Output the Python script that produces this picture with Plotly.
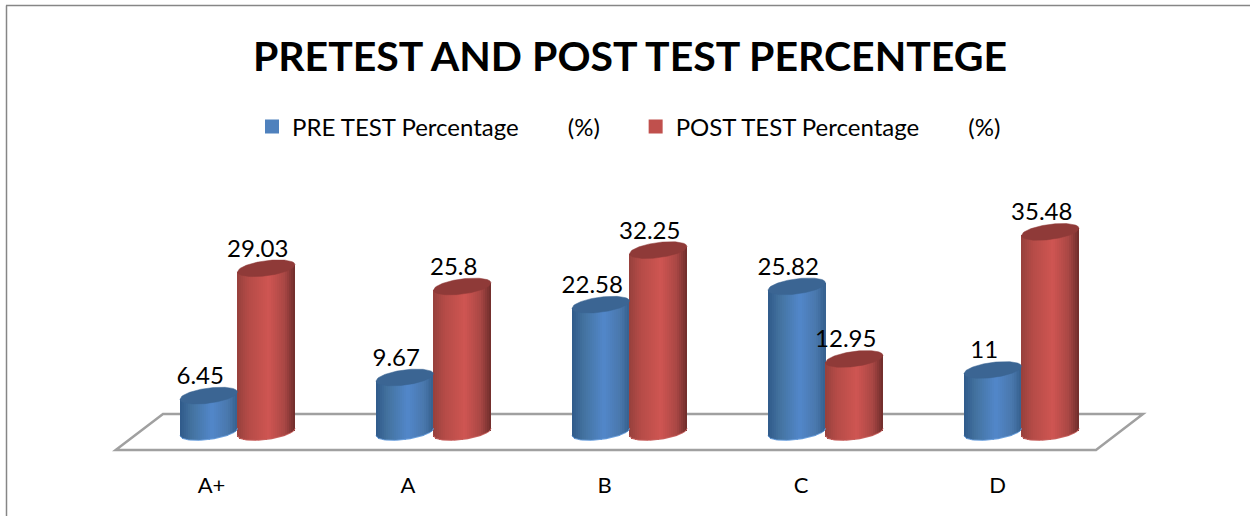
import math
import plotly.graph_objects as go

categories = ["A+", "A", "B", "C", "D"]
pre_test = [6.45, 9.67, 22.58, 25.82, 11]
post_test = [29.03, 25.8, 32.25, 12.95, 35.48]

W, H = 1250, 516
PLOT_BOTTOM = 462
BASE_PX, UNIT_PX = 432.0, 5.64      # y=0 line and px per unit
CAT_PX, ORIGIN_PX = 196.0, 237.5    # px per category, px of first category centre
CYL_W = 57.5 / CAT_PX               # cylinder width in x units
SEMI_B, TILT = 7.6, 0.125           # ellipse shape (px)
N = 29
FONT = "Lato"

blue_stops = [(0, "#2f5a8a"), (.2, "#43729f"), (.55, "#5287ca"), (.82, "#4a78ad"), (1, "#36618f")]
red_stops = [(0, "#96403c"), (.2, "#b54b47"), (.55, "#cf5552"), (.82, "#a94744"), (1, "#6e2d2b")]
blue_cap, red_cap = "#3b6593", "#8f3a38"
blue_rim, red_rim = "#6fa3df", "#c9625f"
blue_key, red_key = "#4f81bd", "#c0504d"


def mix(stops, t):
    for (a, ca), (b, cb) in zip(stops, stops[1:]):
        if t <= b:
            f = (t - a) / (b - a)
            rgb = [round(int(ca[i:i + 2], 16) * (1 - f) + int(cb[i:i + 2], 16) * f) for i in (1, 3, 5)]
            return "rgb(%d,%d,%d)" % tuple(rgb)
    return stops[-1][1]


def ellipse_dy(t, sign):
    """Vertical offset in data units of a tilted ellipse at t in [-1,1]."""
    dx = t * CYL_W * CAT_PX / 2
    return (TILT * dx + sign * SEMI_B * math.sqrt(max(0, 1 - t * t))) / UNIT_PX


def cylinders(values, side, stops, cap, rim):
    xs, bases, heights, colors = [], [], [], []
    for i, v in enumerate(values):
        cx = i + side * CYL_W / 2
        for k in range(N):
            t = -1 + (2 * k + 1) / N
            xs.append(cx + t * CYL_W / 2)
            b = ellipse_dy(t, -1)
            bases.append(b)
            heights.append(v + TILT * t * CYL_W * CAT_PX / 2 / UNIT_PX - b)
            colors.append(mix(stops, (t + 1) / 2))
    out = [go.Bar(x=xs, y=heights, base=bases, width=CYL_W / N * 1.05,
                  marker=dict(color=colors, line=dict(width=0)),
                  showlegend=False, hoverinfo="skip")]
    ts = [j / 30 - 1 for j in range(61)]
    for i, v in enumerate(values):
        cx = i + side * CYL_W / 2
        ex = [cx + t * CYL_W / 2 for t in ts]
        out.append(go.Scatter(x=ex, y=[ellipse_dy(t, -1) for t in ts], mode="lines",
                              line=dict(color=rim, width=1), showlegend=False, hoverinfo="skip"))
        ey = [v + ellipse_dy(t, 1) for t in ts] + [v + ellipse_dy(t, -1) for t in reversed(ts)]
        out.append(go.Scatter(x=ex + ex[::-1], y=ey, mode="lines", fill="toself", fillcolor=cap,
                              line=dict(color=cap, width=0.5), showlegend=False, hoverinfo="skip"))
    return out


fig = go.Figure()
for tr in cylinders(pre_test, -1, blue_stops, blue_cap, blue_rim):
    fig.add_trace(tr)
for tr in cylinders(post_test, 1, red_stops, red_cap, red_rim):
    fig.add_trace(tr)

LABEL_DX = -8.5 / CAT_PX
LABEL_DY = 17.5 / UNIT_PX
for vals, side in ((pre_test, -1), (post_test, 1)):
    fig.add_trace(go.Scatter(
        x=[i + side * CYL_W / 2 + LABEL_DX for i in range(len(vals))],
        y=[v + LABEL_DY for v in vals],
        mode="text", text=[str(v) for v in vals], textposition="middle center",
        textfont=dict(family=FONT, size=24, color="#000"),
        showlegend=False, hoverinfo="skip"))

NB = "\u00a0"
fig.add_trace(go.Bar(x=[None], y=[None], name="PRE TEST Percentage" + NB * 8 + "(%)" + NB * 5,
                     marker=dict(color=blue_key, line=dict(color=blue_key, width=2))))
fig.add_trace(go.Bar(x=[None], y=[None], name="POST TEST Percentage" + NB * 8 + "(%)",
                     marker=dict(color=red_key, line=dict(color=red_key, width=2))))


def xd(px):
    return (px - ORIGIN_PX) / CAT_PX


def yd(px):
    return (BASE_PX - px) / UNIT_PX


floor_path = "M%f,%f L%f,%f L%f,%f L%f,%f Z" % (
    xd(115.7), yd(450), xd(1096), yd(450), xd(1143), yd(414), xd(163), yd(414))

shapes = [
    dict(type="path", path=floor_path, xref="x", yref="y", line=dict(color="#a0a0a0", width=2.5), layer="below"),
    dict(type="line", xref="paper", yref="paper", x0=6.5 / W, x1=6.5 / W,
         y0=1 - 5.5 / PLOT_BOTTOM, y1=1 - H / PLOT_BOTTOM, line=dict(color="#868686", width=1.5), layer="below"),
    dict(type="line", xref="paper", yref="paper", x0=6 / W, x1=1,
         y0=1 - 5.5 / PLOT_BOTTOM, y1=1 - 5.5 / PLOT_BOTTOM, line=dict(color="#868686", width=1.5), layer="below"),
]

fig.update_layout(
    width=W, height=H, margin=dict(l=0, r=0, t=0, b=H - PLOT_BOTTOM, pad=0),
    paper_bgcolor="white", plot_bgcolor="rgba(0,0,0,0)",
    barmode="overlay", bargap=0, shapes=shapes,
    font=dict(family=FONT, color="#000"),
    title=dict(text="<b>PRETEST AND POST TEST PERCENTEGE</b>", x=630 / W, xanchor="center",
               y=1 - 57 / H, yanchor="middle", font=dict(family=FONT, size=41, color="#000")),
    legend=dict(orientation="h", x=252 / W, xanchor="left", y=1 - 127 / PLOT_BOTTOM, yanchor="middle",
                font=dict(family=FONT, size=24, color="#000"), bgcolor="rgba(0,0,0,0)", itemclick=False),
    xaxis=dict(range=[xd(0), xd(W)], tickmode="array",
               tickvals=[i - 26 / CAT_PX + 0.5 / CAT_PX * i for i in range(len(categories))], ticktext=categories,
               tickfont=dict(family=FONT, size=22, color="#000"), ticks="outside", ticklen=4,
               tickcolor="rgba(0,0,0,0)", showgrid=False, zeroline=False, showline=False),
    yaxis=dict(range=[yd(PLOT_BOTTOM), yd(0)], visible=False),
    showlegend=True,
)

fig.write_html("out.html", config={"displayModeBar": False},
               post_script="document.body.style.margin='0';document.body.style.overflow='hidden';")
